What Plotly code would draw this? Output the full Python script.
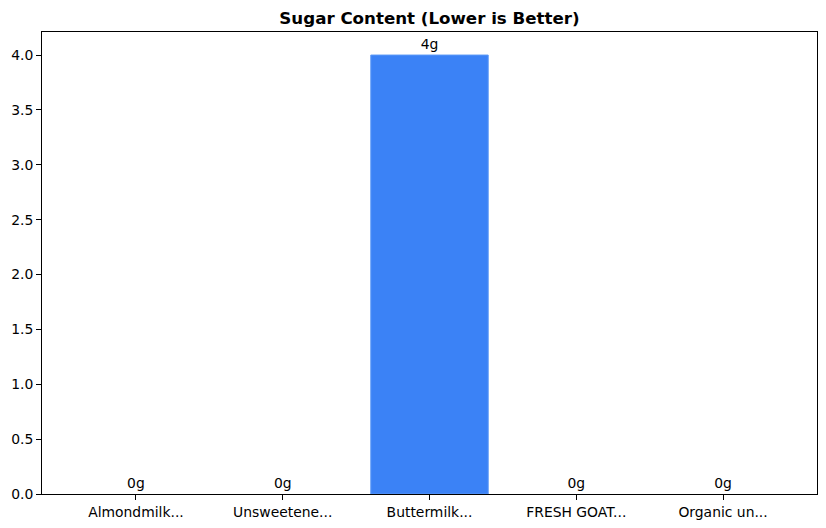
import plotly.graph_objects as go

categories = ["Almondmilk...", "Unsweetene...", "Buttermilk...", "FRESH GOAT...", "Organic un..."]
sugar = [0, 0, 4, 0, 0]
labels = [f"{v:g}g" for v in sugar]
y_ticks = [0.0, 0.5, 1.0, 1.5, 2.0, 2.5, 3.0, 3.5, 4.0]

FS = 13.9
fig = go.Figure(go.Bar(
    x=list(range(len(categories))), y=sugar,
    width=0.8,
    marker=dict(color="#3b82f6",
                line=dict(color="#5c99f7", width=[1 if v > 0 else 0 for v in sugar])),
    text=labels, textposition="outside",
    textfont=dict(family="DejaVu Sans", size=FS, color="black"),
    cliponaxis=False,
))

W, H = 810, 512
fig.update_layout(
    width=W, height=H,
    margin=dict(l=34, r=1, t=24, b=26),
    paper_bgcolor="white", plot_bgcolor="white",
    font=dict(family="DejaVu Sans", size=FS, color="black"),
    title=dict(text="<b>Sugar Content (Lower is Better)</b>", x=0.5, xanchor="center",
               xref="paper", y=1 - 10/H, yanchor="middle", font=dict(size=16.67)),
    showlegend=False,
)
fig.update_xaxes(
    range=[-0.64, 4.64], tickmode="array", tickvals=list(range(len(categories))),
    ticktext=categories, showgrid=False, zeroline=False,
    showline=True, linecolor="black", linewidth=1, mirror=True,
    ticks="outside", ticklen=5, tickcolor="black",
)
fig.update_yaxes(
    range=[0, 4.21], tickmode="array", tickvals=y_ticks,
    ticktext=[f"{v:.1f}" for v in y_ticks], showgrid=False, zeroline=False,
    showline=True, linecolor="black", linewidth=1, mirror=True,
    ticks="outside", ticklen=5, tickcolor="black",
)
fig.write_html("out.html")
